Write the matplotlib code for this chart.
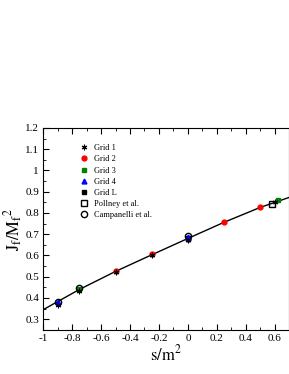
import numpy as np
import matplotlib
matplotlib.use('Agg')
import matplotlib.pyplot as plt
from matplotlib.ticker import MultipleLocator

plt.rcParams['font.family'] = ['Liberation Serif', 'DejaVu Serif']
plt.rcParams['mathtext.fontset'] = 'stix'
plt.rcParams['axes.unicode_minus'] = False

# -------------------------------
# Data
# -------------------------------
fit_s = [-1.0, -0.75, -0.5, -0.25, 0.0, 0.25, 0.5, 0.7]
fit_j = [0.345, 0.44, 0.525, 0.603, 0.68, 0.756, 0.826, 0.873]

grid1_s = [-0.9, -0.75, -0.5, -0.25, 0.0, 0.6]
grid1_j = [0.365, 0.432, 0.52, 0.6, 0.672, 0.852]

grid2_s = [-0.5, -0.25, 0.0, 0.25, 0.5]
grid2_j = [0.525, 0.605, 0.678, 0.757, 0.828]

grid3_s = [-0.75, 0.0, 0.62]
grid3_j = [0.44, 0.678, 0.862]

grid4_s = [-0.9, 0.0]
grid4_j = [0.38, 0.687]

gridL_s = [0.0]
gridL_j = [0.683]

pollney_s = [0.58]
pollney_j = [0.843]

campanelli_s = [-0.9, -0.75, 0.0]
campanelli_j = [0.38, 0.445, 0.69]

# -------------------------------
# Plot
# -------------------------------
fig = plt.figure(figsize=(2.89, 3.74), dpi=100)
ax = fig.add_axes([0.1495, 0.118, 0.851, 0.540])

ax.plot(fit_s, fit_j, color='black', lw=1.0, zorder=1)

ax.plot(grid1_s, grid1_j, ls='none', marker=(6, 2, 0), color='black', ms=4, mew=0.8, label='Grid 1', zorder=3)
ax.plot(grid2_s, grid2_j, ls='none', marker='o', color='red', ms=3.5, label='Grid 2', zorder=2)
ax.plot(grid3_s, grid3_j, ls='none', marker='s', color='green', ms=3.2, label='Grid 3', zorder=2)
ax.plot(grid4_s, grid4_j, ls='none', marker='^', color='blue', ms=3.5, label='Grid 4', zorder=3)
ax.plot(gridL_s, gridL_j, ls='none', marker='s', color='black', ms=3.2, label='Grid L', zorder=2)
ax.plot(pollney_s, pollney_j, ls='none', marker='s', mfc='none', mec='black', ms=4.5, mew=1.0,
        label='Pollney et al.', zorder=4)
ax.plot(campanelli_s, campanelli_j, ls='none', marker='o', mfc='none', mec='black', ms=4.5, mew=1.0,
        label='Campanelli et al.', zorder=4)

ax.set_xlim(-1, 0.7)
ax.set_ylim(0.25, 1.2)
ax.xaxis.set_major_locator(MultipleLocator(0.2))
ax.xaxis.set_minor_locator(MultipleLocator(0.1))
ax.yaxis.set_major_locator(MultipleLocator(0.1))
ax.yaxis.set_minor_locator(MultipleLocator(0.05))
ax.tick_params(which='both', direction='in', top=True, right=False, labelsize=8, pad=3)
ax.tick_params(which='major', length=4)
ax.tick_params(which='minor', length=2)

ax.xaxis.set_major_formatter(plt.FuncFormatter(lambda v, p: '%g' % round(v, 2)))
ax.yaxis.set_major_formatter(plt.FuncFormatter(lambda v, p: '%g' % round(v, 2)))

ax.set_xlabel(r'$\mathrm{s/m}^2$', fontsize=12, labelpad=1)
ax.set_ylabel(r'$\mathrm{J_f/M_f}^2$', fontsize=12, labelpad=0)

ax.legend(loc='upper left', bbox_to_anchor=(0.13, 0.94), frameon=False, fontsize=6,
          handlelength=1.0, handletextpad=0.7, labelspacing=0.38, borderpad=0)

fig.savefig('out.png', dpi=100)
